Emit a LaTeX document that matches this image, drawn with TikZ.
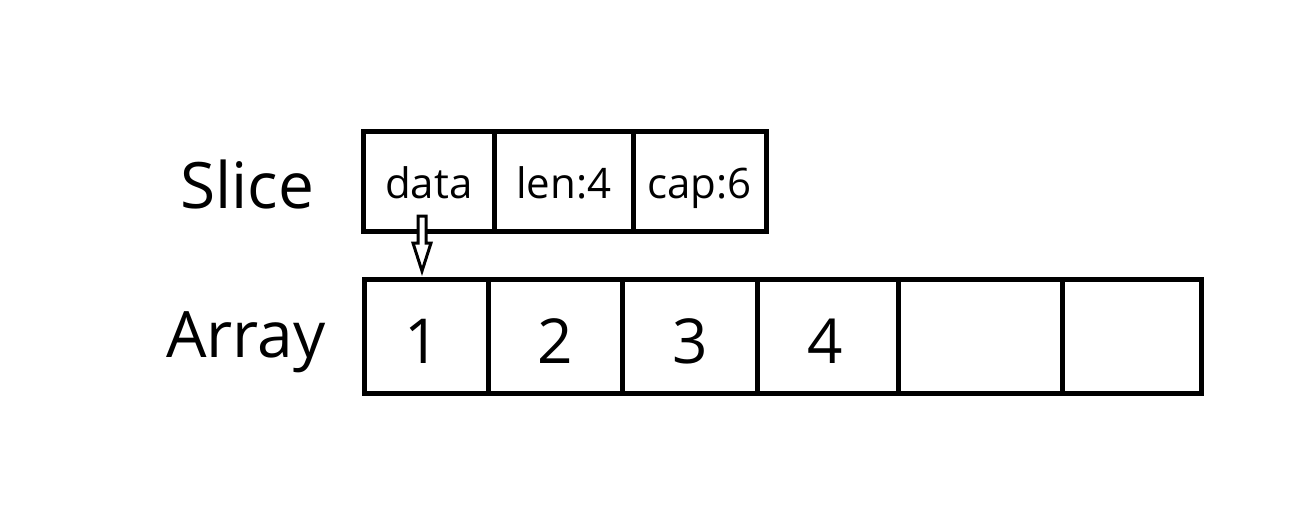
\documentclass[tikz,border=0pt]{standalone}
\usepackage{fontspec}
\setmainfont{Open Sans}
\begin{document}
\begin{tikzpicture}[x=1pt,y=-1pt,
  cell/.style={draw=black, line width=4.5pt, inner sep=0pt, anchor=north west},
  scell/.style={cell, minimum height=100pt, text height=36pt, text depth=1pt, font=\fontsize{42}{50}\selectfont},
  acell/.style={cell, minimum height=114pt, text height=55pt, text depth=0pt, font=\fontsize{62}{74}\selectfont},
  lbl/.style={font=\fontsize{64}{76}\selectfont, inner sep=0pt},
  hollow/.style={draw=black, line width=3pt, fill=white, line join=miter}
]
\useasboundingbox (0,0) rectangle (1300,512);
% labels
\node[lbl] (slicelbl) at (247,184) {Slice};
\node[lbl] (arraylbl) at (246,342) {Array};
% slice cells
\node[scell, minimum width=131pt] (data) at (361,129) {data};
\node[scell, minimum width=139pt] (len) at (492,129) {len:4};
\node[scell, minimum width=133pt] (cap) at (631,129) {cap:6};
% array cells
\node[acell, minimum width=124pt] (a1) at (362,277) {\hspace*{-8pt}1};
\node[acell, minimum width=134pt] (a2) at (486,277) {2};
\node[acell, minimum width=135pt] (a3) at (620,277) {3};
\node[acell, minimum width=141pt] (a4) at (755,277) {\hspace*{-6pt}4};
\node[acell, minimum width=164pt] (a5) at (896,277) {};
\node[acell, minimum width=139pt] (a6) at (1060,277) {};
% hollow pointer arrow from data to a1
\draw[hollow] (418,216) -- (418,243) -- (413,243) -- (422,271) -- (431,243) -- (426,243) -- (426,216) -- cycle;
\end{tikzpicture}
\end{document}
